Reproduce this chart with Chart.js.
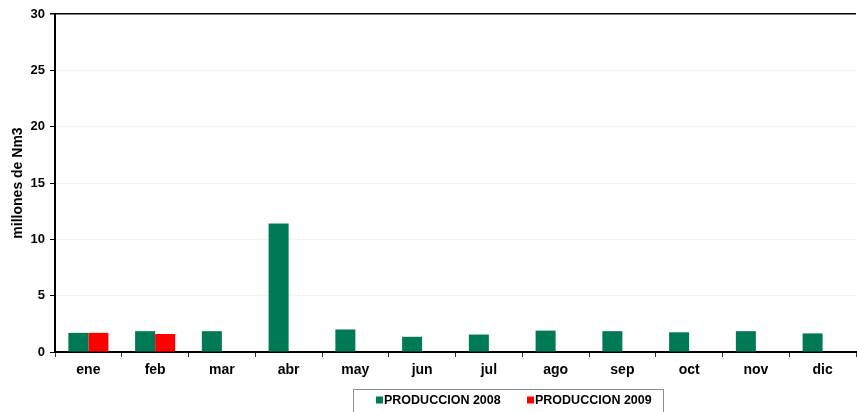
<!DOCTYPE html>
<html>
<head>
<meta charset="utf-8">
<script src="https://cdn.jsdelivr.net/npm/chart.js@4.4.1/dist/chart.umd.min.js"></script>
<style>
  html, body { margin: 0; padding: 0; background: #fff; }
  #wrap { width: 857px; height: 412px; position: relative; }
</style>
</head>
<body>
<div id="wrap"><canvas id="c" width="857" height="412"></canvas></div>
<script>
const categories = ['ene', 'feb', 'mar', 'abr', 'may', 'jun', 'jul', 'ago', 'sep', 'oct', 'nov', 'dic'];
const produccion2008 = [1.7, 1.85, 1.85, 11.4, 2.0, 1.35, 1.55, 1.9, 1.85, 1.75, 1.85, 1.65];
const produccion2009 = [1.7, 1.6, null, null, null, null, null, null, null, null, null, null];
const seriesLabels = ['PRODUCCION 2008', 'PRODUCCION 2009'];
const seriesColors = ['#007A56', '#FF0000'];
const yTitle = 'millones de Nm3';

const FONT = 'Liberation Sans, Arial, Helvetica, sans-serif';

const boxLegend = {
  id: 'boxLegend',
  afterDraw(chart) {
    const ctx = chart.ctx;
    ctx.save();
    const bx = 353, by = 389, bw = 310, bh = 23;
    ctx.strokeStyle = '#8c8c8c';
    ctx.lineWidth = 1;
    ctx.strokeRect(bx + 0.5, by + 0.5, bw, bh);
    ctx.font = 'bold 12.5px ' + FONT;
    ctx.textBaseline = 'middle';
    const items = [{x: 376}, {x: 527}];
    chart.data.datasets.forEach((ds, i) => {
      const x = items[i].x, y = 400;
      ctx.fillStyle = ds.backgroundColor;
      ctx.fillRect(x, y - 3.5, 7, 7);
      ctx.fillStyle = '#000';
      ctx.fillText(ds.label, x + 8, y + 0.5);
    });
    ctx.restore();
  }
};

new Chart(document.getElementById('c'), {
  type: 'bar',
  data: {
    labels: categories,
    datasets: [
      { label: seriesLabels[0], data: produccion2008, backgroundColor: seriesColors[0] },
      { label: seriesLabels[1], data: produccion2009, backgroundColor: seriesColors[1] }
    ]
  },
  options: {
    responsive: false,
    animation: false,
    devicePixelRatio: 1,
    layout: { padding: { top: 14, right: 1, bottom: 30, left: 0 } },
    datasets: { bar: { categoryPercentage: 0.6, barPercentage: 1.0 } },
    plugins: {
      legend: { display: false },
      tooltip: { enabled: false }
    },
    scales: {
      x: {
        afterFit: s => { s.height = 30; },
        grid: {
          offset: true,
          drawOnChartArea: false,
          drawTicks: true,
          tickLength: 5,
          tickColor: '#333'
        },
        border: { color: '#000', width: 2 },
        ticks: {
          color: '#000',
          padding: 5,
          font: { family: FONT, size: 14, weight: 'bold' }
        }
      },
      y: {
        min: 0,
        max: 30,
        afterFit: s => { s.width = 55; },
        grid: {
          color: ctx => ctx.tick && ctx.tick.value === 30 ? '#000' : '#f3f3f3',
          lineWidth: ctx => ctx.tick && ctx.tick.value === 30 ? 1.5 : 1,
          tickLength: 5,
          tickColor: '#000'
        },
        border: { color: '#000', width: 2 },
        ticks: {
          stepSize: 5,
          color: '#000',
          padding: 5,
          font: { family: FONT, size: 13, weight: 'bold' }
        },
        title: {
          display: true,
          text: yTitle,
          color: '#000',
          padding: { top: 10, bottom: 0 },
          font: { family: FONT, size: 14, weight: 'bold' }
        }
      }
    }
  },
  plugins: [boxLegend]
});
</script>
</body>
</html>
